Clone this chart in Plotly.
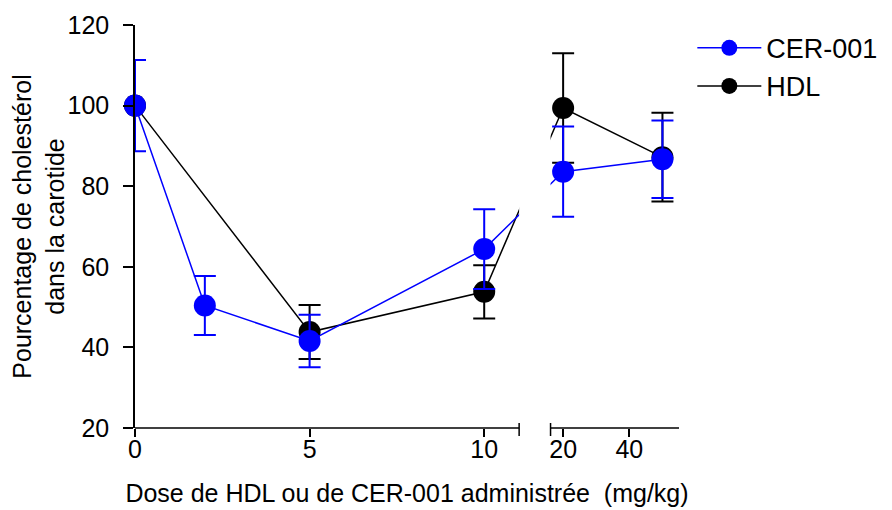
import plotly.graph_objects as go

# Données
cer_dose = [0, 2, 5, 10, 20, 50]
cer_val = [100, 50.4, 41.6, 64.4, 83.6, 86.7]
cer_err = [11.3, 7.3, 6.5, 9.9, 11.2, 9.6]

hdl_dose = [0, 5, 10, 20, 50]
hdl_val = [100, 43.8, 53.8, 99.4, 87.2]
hdl_err = [0, 6.7, 6.6, 13.6, 11.0]

tick_doses = [0, 5, 10, 20, 40]
tick_labels = ['0', '5', '10', '20', '40']

# Axe X coupé : segment 0-11 puis segment 16-55 compressé
SEG1_MAX = 11
GAP = 0.9
SEG2_MIN = 16.2
SEG2_MAX = 55
SCALE2 = 0.0948


def pos(d):
    if d <= SEG1_MAX:
        return d
    return SEG1_MAX + GAP + (d - SEG2_MIN) * SCALE2


X_END = pos(SEG2_MAX)
FONT = 'Liberation Sans, Arial, sans-serif'

fig = go.Figure()

# HDL en dessous, CER-001 au dessus
fig.add_scatter(x=[pos(d) for d in hdl_dose], y=hdl_val, name='HDL', mode='lines+markers',
                line=dict(color='black', width=1.5), marker=dict(color='black', size=22),
                error_y=dict(type='data', array=hdl_err, color='black', thickness=2, width=11),
                cliponaxis=False, legendrank=2)
fig.add_scatter(x=[pos(d) for d in cer_dose], y=cer_val, name='CER-001', mode='lines+markers',
                line=dict(color='#0000FF', width=1.5), marker=dict(color='#0000FF', size=22),
                error_y=dict(type='data', array=cer_err, color='#0000FF', thickness=2, width=11),
                cliponaxis=False, legendrank=1)

# Masque de la coupure et lignes de l'axe X
px_y = 1 / 403
fig.add_shape(type='rect', xref='x', yref='paper', x0=SEG1_MAX, x1=SEG1_MAX + GAP,
              y0=-0.02, y1=1.05, fillcolor='white', line=dict(width=0), layer='above')
for x0, x1 in [(0, SEG1_MAX), (SEG1_MAX + GAP, X_END)]:
    fig.add_shape(type='line', xref='x', yref='paper', x0=x0, x1=x1, y0=0, y1=0,
                  line=dict(color='black', width=1.5), layer='above')
for xb in [SEG1_MAX, SEG1_MAX + GAP]:
    fig.add_shape(type='line', xref='x', yref='paper', x0=xb, x1=xb, y0=-8 * px_y, y1=5 * px_y,
                  line=dict(color='black', width=1.5), layer='above')

# la page ajoute 8 px de marge en haut et à gauche
fig.update_layout(
    width=892, height=510,
    margin=dict(l=127, r=221, t=17, b=90, pad=0),
    plot_bgcolor='white', paper_bgcolor='white',
    font=dict(family=FONT, color='black', size=25),
    showlegend=True,
    legend=dict(x=1.0245, y=1.003, xanchor='left', yanchor='top', font=dict(size=27),
                itemwidth=64, bgcolor='rgba(0,0,0,0)', tracegroupgap=11),
)

fig.update_xaxes(range=[0, X_END], showline=False, showgrid=False, zeroline=False,
                 automargin=False,
                 tickvals=[pos(d) for d in tick_doses], ticktext=tick_labels,
                 ticks='outside', ticklen=8, tickwidth=1.5, tickcolor='black',
                 tickfont=dict(size=25), ticklabelstandoff=-9,
                 title=dict(text='Dose de HDL ou de CER-001 administrée  (mg/kg)',
                            font=dict(size=25), standoff=22))
fig.update_yaxes(range=[20, 120], showline=True, linecolor='black', linewidth=1.5,
                 showgrid=False, zeroline=False, automargin=False,
                 tickvals=[20, 40, 60, 80, 100, 120],
                 ticks='outside', ticklen=10, tickwidth=1.5, tickcolor='black',
                 tickfont=dict(size=25), ticklabelstandoff=9,
                 title=dict(text='Pourcentage de cholestérol<br>dans la carotide',
                            font=dict(size=25), standoff=0))

fig.write_html("out.html")
